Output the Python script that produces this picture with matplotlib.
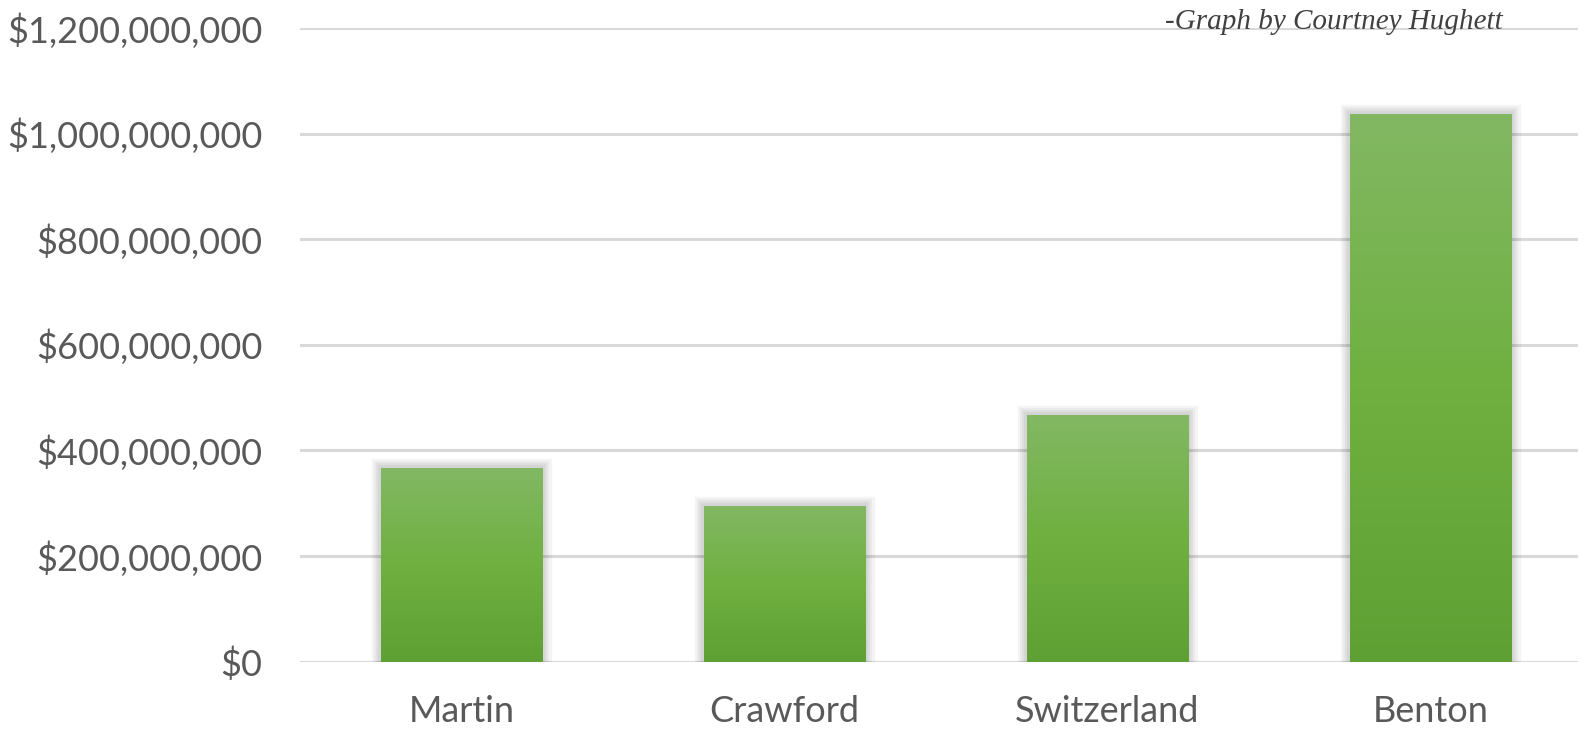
import matplotlib
matplotlib.use("Agg")
import matplotlib.pyplot as plt
import matplotlib.patheffects as pe
import numpy as np
from matplotlib.colors import LinearSegmentedColormap
from matplotlib.ticker import FuncFormatter, MultipleLocator

categories = ["Martin", "Crawford", "Switzerland", "Benton"]
values = [367_000_000, 295_000_000, 467_000_000, 1_038_000_000]
credit = "-Graph by Courtney Hughett"

W, H = 1592, 730
fig = plt.figure(figsize=(W / 100, H / 100), dpi=100)
ax = fig.add_axes([300 / W, 1 - 661.5 / H, 1278 / W, (661.5 - 28) / H])

text_color = "#595959"
grid_color = "#d9d9d9"

x = np.arange(len(categories))
bw = 0.5
cmap = LinearSegmentedColormap.from_list("g", ["#5fa034", "#6fb040", "#82b863"])
grad = np.linspace(0, 1, 256).reshape(-1, 1)

bars = ax.bar(x, values, width=bw, color="#70ad47", zorder=3,
              path_effects=[pe.Stroke(linewidth=w, foreground="black", alpha=0.045) for w in (14, 10, 7, 4)] + [pe.Normal()])
for b, xi, v in zip(bars, x, values):
    im = ax.imshow(grad, cmap=cmap, origin="lower", aspect="auto",
                   extent=[xi - bw / 2, xi + bw / 2, 0, v], zorder=4, interpolation="bilinear")
    im.set_clip_path(b)

ax.set_xlim(-0.5, (1578 - 461.5) / 323)
ax.set_ylim(0, 1_200_000_000)
ax.yaxis.set_major_locator(MultipleLocator(200_000_000))
ax.yaxis.set_major_formatter(FuncFormatter(lambda v, p: f"${v:,.0f}"))
ax.set_xticks(x)
ax.set_xticklabels(categories)

ax.grid(axis="y", color=grid_color, linewidth=2.2, zorder=0)
ax.set_axisbelow(True)
for s in ax.spines.values():
    s.set_visible(False)
ax.tick_params(axis="both", length=0, colors=text_color, labelsize=26)
ax.tick_params(axis="y", pad=27)
ax.tick_params(axis="x", pad=24)
for lab in ax.get_xticklabels() + ax.get_yticklabels():
    lab.set_family(["Lato", "DejaVu Sans"])
    lab.set_color(text_color)

fig.text(1503 / W, 1 - 22 / H, credit, ha="right", va="center", fontsize=21,
         family="Liberation Serif", style="italic", color="#404040")

fig.savefig("out.png", dpi=100)
